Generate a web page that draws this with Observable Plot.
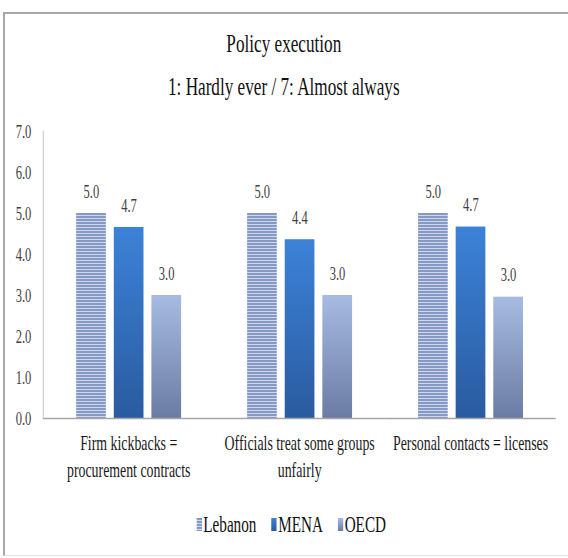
<!DOCTYPE html>
<html><head><meta charset="utf-8">
<script src="https://cdn.jsdelivr.net/npm/d3@7"></script>
<script src="https://cdn.jsdelivr.net/npm/@observablehq/plot@0.6"></script>
<style>
html,body{margin:0;padding:0;background:#fff;}
body{width:568px;height:558px;position:relative;overflow:hidden;}
#frame{position:absolute;left:3px;top:12px;width:566px;height:544px;border-left:2px solid #a8a8a8;border-top:2px solid #a8a8a8;border-bottom:1px solid #e2e2e2;box-sizing:border-box;}
#stage{position:absolute;left:0;top:0;width:860px;height:558px;transform:scaleX(0.66);transform-origin:0 0;}
#title{position:absolute;left:0;width:860px;top:22px;text-align:center;font-family:"Liberation Serif",serif;font-size:26px;line-height:43px;color:#111;}
#chart{position:absolute;left:0;top:120px;}
#legend{position:absolute;left:298px;top:508px;}
#legend span{margin-right:23px !important;}
#legend span > svg{margin-right:2px !important;}
</style>
</head><body>
<div id="frame"></div>
<div id="stage">
  <div id="title">Policy execution<br>1: Hardly ever / 7: Almost always</div>
  <div id="chart"></div>
  <div id="legend"></div>
</div>
<script>
const categories = ["Firm kickbacks =\nprocurement contracts", "Officials treat some groups\nunfairly", "Personal contacts = licenses"];
const series = ["Lebanon", "MENA", "OECD"];
const lebanon = [5.0, 5.0, 5.0];
const mena = [4.66, 4.36, 4.67];
const oecd = [3.0, 3.0, 2.96];
const yTicks = [0, 1, 2, 3, 4, 5, 6, 7];
const fills = ["url(#pat-lebanon)", "url(#grad-mena)", "url(#grad-oecd)"];

const valuesBySeries = [lebanon, mena, oecd];
const data = categories.flatMap((c, i) => series.map((s, j) => ({category: c, series: s, value: valuesBySeries[j][i]})));

// shared paint definitions
const defs = d3.select("body").append("svg").attr("width", 0).attr("height", 0)
  .style("position", "absolute").style("left", "0").style("top", "0").append("defs");
const pat = defs.append("pattern").attr("id", "pat-lebanon").attr("patternUnits", "userSpaceOnUse")
  .attr("width", 10).attr("height", 3);
pat.append("rect").attr("width", 10).attr("height", 3).attr("fill", "#8699c6");
pat.append("rect").attr("y", 2).attr("width", 10).attr("height", 1).attr("fill", "#cfd7eb");
function grad(id, top, bottom) {
  const g = defs.append("linearGradient").attr("id", id).attr("x1", 0).attr("y1", 0).attr("x2", 0).attr("y2", 1);
  g.append("stop").attr("offset", "0%").attr("stop-color", top);
  g.append("stop").attr("offset", "100%").attr("stop-color", bottom);
}
grad("grad-mena", "#3c82d8", "#2a5b9f");
grad("grad-oecd", "#a7bbe2", "#6b7ca4");

const fmt = d3.format(".1f");

const chart = Plot.plot({
  width: 860,
  height: 360,
  marginTop: 11,
  marginBottom: 62,
  marginLeft: 63.6,
  marginRight: 16.7,
  style: {fontFamily: "'Liberation Serif', serif", background: "transparent", overflow: "visible"},
  fx: {domain: categories, padding: 0, label: null},
  x: {domain: series, paddingInner: 0.21, paddingOuter: 0.861, axis: null},
  y: {domain: [0, 7], label: null},
  color: {domain: series, range: fills},
  marks: [
    Plot.axisY(yTicks, {tickSize: 0, tickPadding: 18, tickFormat: fmt, fontSize: 19, fill: "#404040", label: null}),
    Plot.axisFx({anchor: "bottom", tickSize: 0, tickPadding: 12, fontSize: 21, lineHeight: 1.3, fill: "#1a1a1a", label: null}),
    Plot.barY(data, {fx: "category", x: "series", y: "value", fill: "series"}),
    Plot.text(data, {fx: "category", x: "series", y: "value", text: d => fmt(d.value), dy: -22, fontSize: 19, fill: "#404040"}),
    Plot.ruleY([0], {stroke: "#a6a6a6", strokeWidth: 1.5}),
    Plot.frame({anchor: "left", facetAnchor: "left", stroke: "#c4c4c4", strokeWidth: 1.5})
  ]
});
document.getElementById("chart").append(chart);

const legend = Plot.legend({
  legend: "swatches",
  color: {domain: series, range: fills},
  swatchWidth: 8,
  swatchHeight: 13,
  className: "lg",
  style: {fontFamily: "'Liberation Serif', serif", fontSize: "23px", color: "#111", margin: "0"}
});
document.getElementById("legend").append(legend);
</script>
</body></html>
